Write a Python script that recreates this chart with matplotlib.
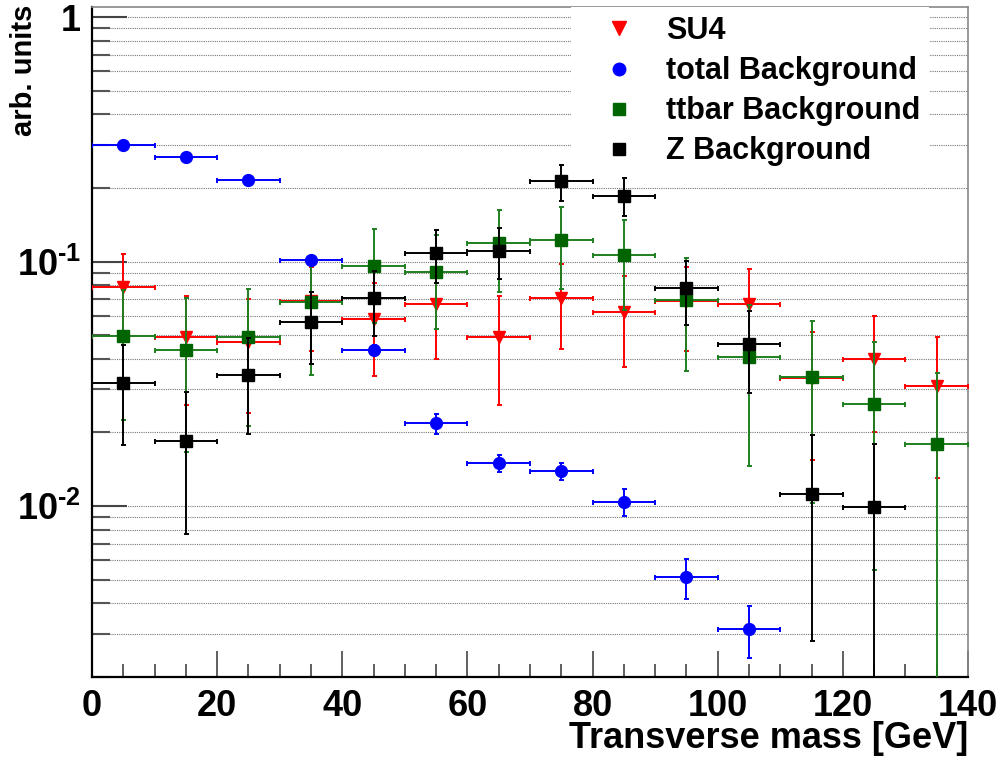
import numpy as np
import matplotlib
matplotlib.use('Agg')
import matplotlib.pyplot as plt
from matplotlib.lines import Line2D
from matplotlib.ticker import LogLocator, FixedLocator, MultipleLocator, NullFormatter

plt.rcParams['font.family'] = ['Liberation Sans', 'DejaVu Sans']
plt.rcParams['font.weight'] = 'bold'
plt.rcParams['mathtext.fontset'] = 'custom'
plt.rcParams['mathtext.rm'] = 'Liberation Sans:bold'
plt.rcParams['mathtext.bf'] = 'Liberation Sans:bold'
plt.rcParams['mathtext.it'] = 'Liberation Sans:bold'

# bin centres of the transverse mass histogram (10 GeV bins)
mt_centres = [5, 15, 25, 35, 45, 55, 65, 75, 85, 95, 105, 115, 125, 135]
bin_halfwidth = 5

su4 = [0.079, 0.049, 0.047, 0.069, 0.058, 0.067, 0.049, 0.071, 0.062, 0.069, 0.067, 0.0335, 0.040, 0.031]
su4_err = [0.028, 0.023, 0.023, 0.026, 0.024, 0.027, 0.023, 0.027, 0.025, 0.026, 0.026, 0.018, 0.020, 0.018]

total_mt = [5, 15, 25, 35, 45, 55, 65, 75, 85, 95, 105]
total_bkg = [0.300, 0.268, 0.216, 0.102, 0.0435, 0.0218, 0.0150, 0.0139, 0.0104, 0.00513, 0.00314]
total_err = [0.004, 0.004, 0.003, 0.003, 0.002, 0.002, 0.0012, 0.0011, 0.0013, 0.00095, 0.00075]

ttbar_bkg = [0.0496, 0.0437, 0.0493, 0.0685, 0.096, 0.091, 0.119, 0.1225, 0.106, 0.0696, 0.0406, 0.0337, 0.0261, 0.018]
ttbar_err = [0.027, 0.027, 0.028, 0.034, 0.040, 0.038, 0.044, 0.045, 0.0425, 0.034, 0.026, 0.0234, 0.0206, 0.017]

z_mt = [5, 15, 25, 35, 45, 55, 65, 75, 85, 95, 105, 115, 125]
z_bkg = [0.0318, 0.0185, 0.0343, 0.0567, 0.0707, 0.108, 0.111, 0.213, 0.186, 0.0777, 0.046, 0.0112, 0.0099]
z_err = [0.014, 0.0108, 0.0145, 0.0185, 0.021, 0.0265, 0.026, 0.036, 0.033, 0.0225, 0.017, 0.0084, 0.008]

fig = plt.figure(figsize=(10.05, 7.61), dpi=100)
ax = fig.add_axes([0.0915, 0.1104, 0.8717, 0.8804])
ax.set_yscale('log')
ax.set_xlim(0, 140)
ax.set_ylim(0.002, 1.1)

red = '#ff0000'
blue = '#0000ff'
green = '#006400'
green_line = '#1f7f1f'

ax.errorbar(mt_centres, su4, yerr=su4_err, xerr=bin_halfwidth, fmt='v', color=red,
            ms=9, elinewidth=1.4, capsize=1.8, capthick=1.4, zorder=3)
ax.errorbar(mt_centres, ttbar_bkg, yerr=ttbar_err, xerr=bin_halfwidth, fmt='s', color=green_line,
            mfc=green, mec=green, ms=9, elinewidth=1.4, capsize=1.8, capthick=1.4, zorder=4)
ax.errorbar(z_mt, z_bkg, yerr=z_err, xerr=bin_halfwidth, fmt='s', color='black',
            ms=9, elinewidth=1.4, capsize=1.8, capthick=1.4, zorder=5)
ax.errorbar(total_mt, total_bkg, yerr=total_err, xerr=bin_halfwidth, fmt='o', color=blue,
            ms=8.5, elinewidth=1.4, capsize=1.8, capthick=1.4, zorder=6)

# axis ticks, ROOT style (inward, bottom and left only)
ax.xaxis.set_major_locator(MultipleLocator(20))
ax.xaxis.set_minor_locator(MultipleLocator(5))
ax.yaxis.set_major_locator(FixedLocator([0.01, 0.1, 1]))
ax.yaxis.set_minor_locator(LogLocator(base=10, subs=np.arange(2, 10), numticks=20))
ax.yaxis.set_minor_formatter(NullFormatter())
ax.set_yticks([0.01, 0.1, 1])
ax.set_yticklabels([r'$10^{\text{-}2}$', r'$10^{\text{-}1}$', '1'])
ax.tick_params(axis='both', which='both', direction='in', top=False, right=False)
ax.tick_params(axis='x', which='major', length=19, width=1.2, labelsize=26, pad=9, color='#444444')
ax.tick_params(axis='x', which='minor', length=9.5, width=1.2, color='#444444')
ax.tick_params(axis='y', which='major', length=25, width=1.5, labelsize=26, pad=8, color='#444444')
ax.tick_params(axis='y', which='minor', length=13, width=1.5, color='#555555')
for lab in ax.get_xticklabels() + ax.get_yticklabels():
    lab.set_fontweight('bold')

# dotted horizontal grid at every decade subdivision
ax.grid(True, axis='y', which='both', linestyle=(0, (1, 1)), color='#777777', linewidth=0.8)
ax.set_axisbelow(True)

ax.spines['left'].set_linewidth(1.6)
ax.spines['bottom'].set_linewidth(1.6)
ax.spines['top'].set_color('#888888')
ax.spines['right'].set_color('#888888')
ax.spines['top'].set_linewidth(1.2)
ax.spines['right'].set_linewidth(1.2)

ax.set_xlabel('Transverse mass [GeV]', fontsize=26, fontweight='bold', loc='right')
ax.xaxis.set_label_coords(1.0, -0.066)
ax.set_ylabel('arb. units', fontsize=21, fontweight='bold', loc='top')
ax.yaxis.set_label_coords(-0.062, 1.004)

handles = [
    Line2D([], [], ls='none', marker='v', color=red, ms=10),
    Line2D([], [], ls='none', marker='o', color=blue, ms=9),
    Line2D([], [], ls='none', marker='s', color=green, ms=9),
    Line2D([], [], ls='none', marker='s', color='black', ms=9),
]
labels = ['SU4', 'total Background', 'ttbar Background', 'Z Background']
leg = ax.legend(handles, labels, loc='upper left', bbox_to_anchor=(0.547, 1.0),
                prop={'family': 'Liberation Sans', 'weight': 'bold', 'size': 22},
                frameon=True, facecolor='white', edgecolor='none', framealpha=1,
                fancybox=False, borderpad=0.3, labelspacing=0.33, handletextpad=0.3,
                handlelength=2.5, borderaxespad=0)
leg.set_zorder(10)

fig.savefig('out.png', dpi=100)
